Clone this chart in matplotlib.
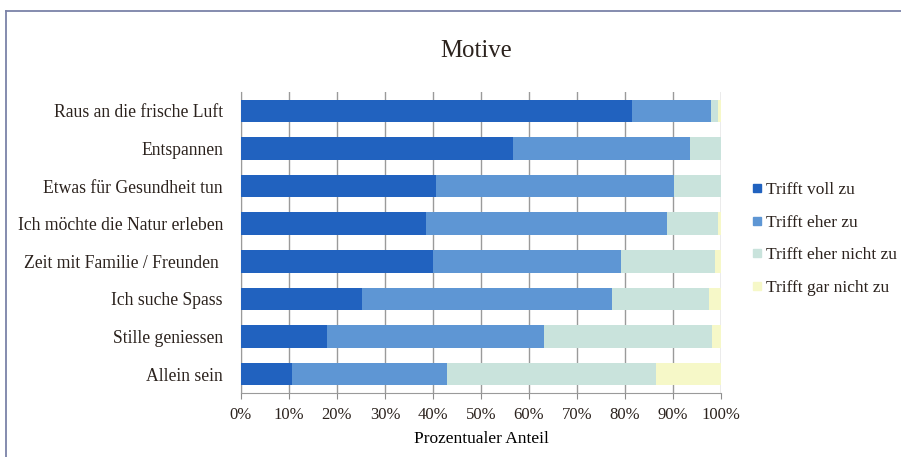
import matplotlib.pyplot as plt
import numpy as np
from matplotlib import lines

plt.rcParams['font.family'] = ['Liberation Serif', 'DejaVu Serif']
plt.rcParams['text.color'] = '#2b221d'
plt.rcParams['xtick.labelcolor'] = '#2b221d'
plt.rcParams['ytick.labelcolor'] = '#2b221d'

categories = [
    'Raus an die frische Luft',
    'Entspannen',
    'Etwas für Gesundheit tun',
    'Ich möchte die Natur erleben',
    'Zeit mit Familie / Freunden ',
    'Ich suche Spass',
    'Stille geniessen',
    'Allein sein',
]
voll_zu = [81.5, 56.7, 40.7, 38.6, 40.1, 25.2, 17.9, 10.6]
eher_zu = [16.4, 36.8, 49.5, 50.1, 39.0, 52.1, 45.3, 32.3]
eher_nicht_zu = [1.5, 6.5, 9.8, 10.7, 19.7, 20.1, 34.9, 43.5]
gar_nicht_zu = [0.6, 0.0, 0.0, 0.6, 1.2, 2.6, 1.9, 13.6]

series = [
    ('Trifft voll zu', voll_zu, '#2162bf'),
    ('Trifft eher zu', eher_zu, '#5e96d4'),
    ('Trifft eher nicht zu', eher_nicht_zu, '#c9e3dc'),
    ('Trifft gar nicht zu', gar_nicht_zu, '#f6f8c8'),
]

fig = plt.figure(figsize=(9.01, 4.57), dpi=100)
# frame of the original figure: only the top and left edges are visible
frame_color = '#7b82a8'
fig.add_artist(lines.Line2D([5.5 / 901, 1], [1 - 10.5 / 457, 1 - 10.5 / 457],
                            transform=fig.transFigure, color=frame_color, linewidth=1.3))
fig.add_artist(lines.Line2D([5.5 / 901, 5.5 / 901], [0, 1 - 10.5 / 457],
                            transform=fig.transFigure, color=frame_color, linewidth=1.3))

ax = fig.add_axes([241 / 901, 1 - 393 / 457, 480 / 901, 301 / 457])

y = np.arange(len(categories))
left = np.zeros(len(categories))
handles = []
for label, vals, color in series:
    ax.barh(y, vals, left=left, height=0.6, color=color, zorder=3)
    left += np.array(vals)
    handles.append(lines.Line2D([], [], marker='s', linestyle='', markersize=6,
                                markerfacecolor=color, markeredgecolor=color, label=label))

ax.set_xlim(0, 100)
ax.set_ylim(len(categories) - 0.5, -0.5)
ax.set_xticks(np.arange(0, 101, 10))
ax.set_xticklabels(['{}%'.format(v) for v in range(0, 101, 10)], fontsize=12)
ax.set_yticks(y)
ax.set_yticklabels(categories, fontsize=12.7)
ax.tick_params(axis='y', length=0, pad=13)
ax.tick_params(axis='x', length=4, color='#8c8c8c', pad=6)
ax.xaxis.grid(True, color='#9a9a9a', linewidth=1)
ax.set_axisbelow(True)
for side in ['top', 'right']:
    ax.spines[side].set_visible(False)
for side in ['left', 'bottom']:
    ax.spines[side].set_color('#9a9a9a')
ax.set_xlabel('Prozentualer Anteil', fontsize=12.5, labelpad=6)

fig.text(476 / 901, 1 - 51 / 457, 'Motive', ha='center', va='center', fontsize=17.8)

fig.legend(handles=handles, loc='upper left', bbox_to_anchor=(746 / 901, 1 - 175 / 457),
           frameon=False, fontsize=12.5, handlelength=0.5, handletextpad=0.25,
           labelspacing=0.95, borderaxespad=0)

fig.savefig('out.png', dpi=100)
